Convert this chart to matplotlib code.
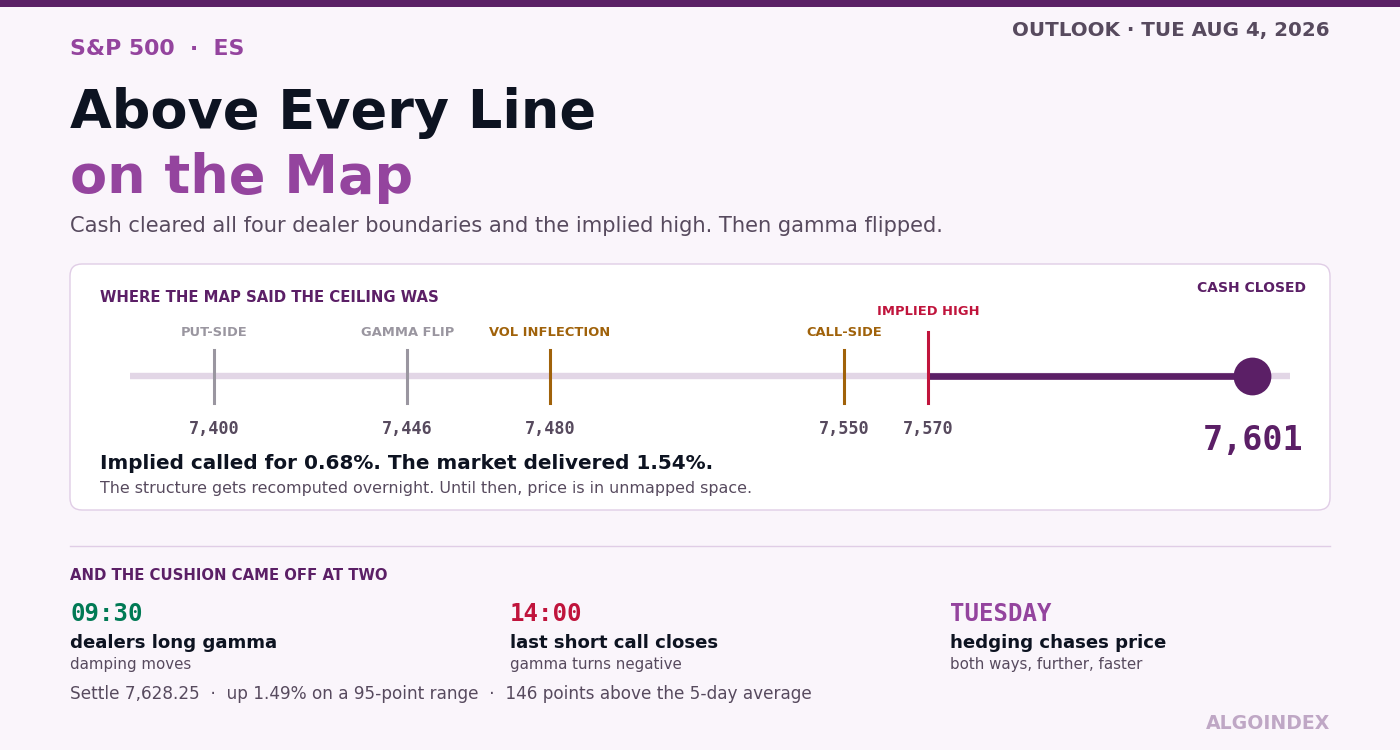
import matplotlib.pyplot as plt
from matplotlib.patches import FancyBboxPatch

plt.rcParams['font.family'] = ['DejaVu Sans']

# levels on the map
level_names = ["PUT-SIDE", "GAMMA FLIP", "VOL INFLECTION", "CALL-SIDE", "IMPLIED HIGH"]
level_values = [7400, 7446, 7480, 7550, 7570]
level_colors = ["#9a96a0", "#9a96a0", "#a0620a", "#a0620a", "#c0143c"]
cash_close = 7601

# timeline
times = ["09:30", "14:00", "TUESDAY"]
time_colors = ["#007a55", "#c0143c", "#94449e"]
time_heads = ["dealers long gamma", "last short call closes", "hedging chases price"]
time_notes = ["damping moves", "gamma turns negative", "both ways, further, faster"]

BG = "#faf5fb"
DARK = "#0d1321"
GREY = "#574a5e"
PURPLE = "#94449e"
DEEP = "#5b1f66"

fig = plt.figure(figsize=(14, 7.5), dpi=100, facecolor=BG)
ax = fig.add_axes([0, 0, 1, 1])
ax.set_xlim(0, 1400)
ax.set_ylim(750, 0)
ax.axis("off")

# top band
ax.add_patch(plt.Rectangle((0, 0), 1400, 7, color="#5b2166", lw=0))

ax.text(1330, 36, "OUTLOOK · TUE AUG 4, 2026", ha="right", va="baseline",
        fontsize=14.3, fontweight="bold", color=GREY)
ax.text(70, 55, "S&P 500  ·  ES", fontsize=15.8, fontweight="bold", color=PURPLE)
ax.text(70, 128, "Above Every Line", fontsize=38.9, fontweight="bold", color=DARK)
ax.text(70, 193, "on the Map", fontsize=38.9, fontweight="bold", color=PURPLE)
ax.text(70, 232, "Cash cleared all four dealer boundaries and the implied high. Then gamma flipped.",
        fontsize=15.1, color=GREY)

# card
card = FancyBboxPatch((70, 264), 1260, 246, boxstyle="round,pad=0,rounding_size=12",
                      fc="white", ec="#e0cde6", lw=1)
ax.add_patch(card)
ax.text(100, 302, "WHERE THE MAP SAID THE CEILING WAS", fontsize=10.7, fontweight="bold", color=DEEP)
ax.text(1306, 292, "CASH CLOSED", ha="right", fontsize=10, fontweight="bold", color=DEEP)

# level strip: x in index points, y in pixels
lo, hi = 7380, 7656.2
sx = fig.add_axes([130 / 1400, 0, 1160 / 1400, 1])
sx.set_xlim(lo, hi)
sx.set_ylim(750, 0)
sx.axis("off")
sx.plot([lo, hi], [376, 376], color="#e2d6e6", lw=4.6, solid_capstyle="butt", zorder=1)

for name, val, col in zip(level_names, level_values, level_colors):
    top = 332 if name == "IMPLIED HIGH" else 350
    lab_y = 315 if name == "IMPLIED HIGH" else 336
    sx.plot([val, val], [top, 403], color=col, lw=2.2, zorder=3)
    sx.text(val, lab_y, name, ha="center", fontsize=9.4, fontweight="bold", color=col)
    sx.text(val, 434, f"{val:,}", ha="center", fontsize=12.2, fontweight="bold",
            family="DejaVu Sans Mono", color=GREY)

# close is past the right edge of the scale; pin the marker near the track end
dot_x = hi - 9
sx.plot([level_values[-1], dot_x], [376, 376], color=DEEP, lw=4.8, solid_capstyle="butt", zorder=2)
sx.scatter([dot_x], [376], s=740, color=DEEP, zorder=4, lw=0)

ax.text(1303, 450, f"{cash_close:,}", ha="right", fontsize=24, fontweight="bold",
        family="DejaVu Sans Mono", color=DEEP)
ax.text(100, 469, "Implied called for 0.68%. The market delivered 1.54%.", fontsize=14.4,
        fontweight="bold", color=DARK)
ax.text(100, 493, "The structure gets recomputed overnight. Until then, price is in unmapped space.",
        fontsize=11.4, color=GREY)

# divider and timeline
ax.plot([70, 1330], [546, 546], color="#e0cde6", lw=1)
ax.text(70, 580, "AND THE CUSHION CAME OFF AT TWO", fontsize=10.7, fontweight="bold", color=DEEP)

for i, (t, c, h, n) in enumerate(zip(times, time_colors, time_heads, time_notes)):
    x = 70 + i * 440
    ax.text(x, 621, t, fontsize=17.3, fontweight="bold", family="DejaVu Sans Mono", color=c)
    ax.text(x, 648, h, fontsize=13.1, fontweight="bold", color=DARK)
    ax.text(x, 669, n, fontsize=10.8, color=GREY)

ax.text(70, 699, "Settle 7,628.25  ·  up 1.49% on a 95-point range  ·  146 points above the 5-day average",
        fontsize=12.15, color=GREY)
ax.text(1330, 729, "ALGOINDEX", ha="right", fontsize=13.6, fontweight="bold", color="#bfa7c5")

fig.savefig("out.png", dpi=100, facecolor=BG)
